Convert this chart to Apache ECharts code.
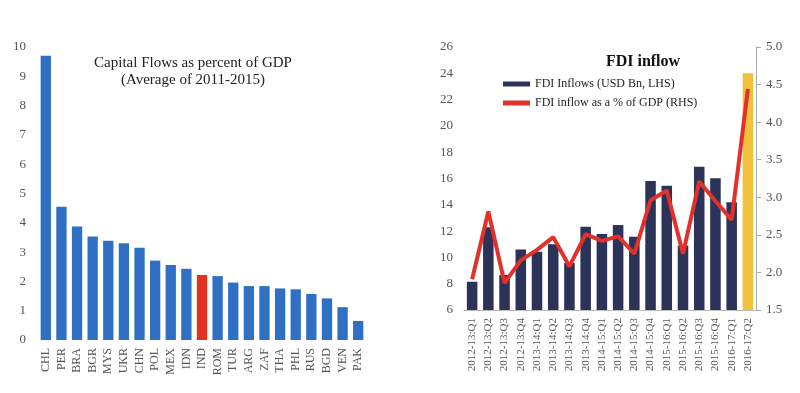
<!DOCTYPE html>
<html><head><meta charset="utf-8">
<script src="https://cdn.jsdelivr.net/npm/echarts@6/dist/echarts.min.js"></script>
<style>html,body{margin:0;padding:0;background:#fff}#c{width:800px;height:393px}</style>
</head><body><div id="c"></div>
<script>
const countries = ["CHL","PER","BRA","BGR","MYS","UKR","CHN","POL","MEX","IDN","IND","ROM","TUR","ARG","ZAF","THA","PHL","RUS","BGD","VEN","PAK"];
const capitalFlows = [9.7,4.55,3.87,3.53,3.39,3.30,3.15,2.71,2.56,2.43,2.22,2.18,1.96,1.84,1.84,1.76,1.73,1.57,1.42,1.12,0.65];
const quarters = ["2012-13:Q1","2012-13:Q2","2012-13:Q3","2012-13:Q4","2013-14:Q1","2013-14:Q2","2013-14:Q3","2013-14:Q4","2014-15:Q1","2014-15:Q2","2014-15:Q3","2014-15:Q4","2015-16:Q1","2015-16:Q2","2015-16:Q3","2015-16:Q4","2016-17:Q1","2016-17:Q2"];
const fdiInflows = [8.15,12.29,8.66,10.6,10.43,11.0,9.57,12.33,11.78,12.46,11.57,15.81,15.45,10.9,16.9,16.01,14.19,24.0];
const fdiPctGdp = [1.91,2.81,1.86,2.16,2.30,2.47,2.08,2.51,2.42,2.48,2.25,2.96,3.09,2.25,3.21,2.95,2.70,4.44];

const serif = "Liberation Serif";
const grey = "#555";
const chart = echarts.init(document.getElementById('c'));
chart.setOption({
  animation: false,
  textStyle: {fontFamily: serif},
  title: [
    {text: "Capital Flows as percent of GDP\n(Average of 2011-2015)", left: 188, top: 50, textAlign: 'center',
     textStyle: {fontFamily: serif, fontSize: 15, fontWeight: 'normal', color: '#222', lineHeight: 17}},
    {text: "FDI inflow", left: 638, top: 49, textAlign: 'center',
     textStyle: {fontFamily: serif, fontSize: 16, fontWeight: 'bold', color: '#111'}}
  ],
  legend: {
    orient: 'vertical', left: 498, top: 73, itemGap: 7, itemWidth: 27, itemHeight: 5,
    textStyle: {fontFamily: serif, fontSize: 12, color: '#222'},
    data: [{name: "FDI Inflows (USD Bn, LHS)", icon: 'rect'}, {name: "FDI inflow as a % of GDP (RHS)", icon: 'rect'}]
  },
  grid: [
    {left: 38, right: 434, top: 47, bottom: 53},
    {left: 464, right: 44, top: 47, bottom: 83}
  ],
  xAxis: [
    {gridIndex: 0, type: 'category', data: countries, axisLine: {show: false}, axisTick: {show: false},
     axisLabel: {rotate: 90, interval: 0, fontFamily: serif, fontSize: 12, color: grey, margin: 8}},
    {gridIndex: 1, type: 'category', data: quarters, axisLine: {show: true, lineStyle: {color: '#bbb', width: 1}}, axisTick: {show: false},
     axisLabel: {rotate: 90, interval: 0, fontFamily: serif, fontSize: 11, color: grey, margin: 8}}
  ],
  yAxis: [
    {gridIndex: 0, type: 'value', min: 0, max: 10, interval: 1, splitLine: {show: false}, axisLine: {show: false},
     axisLabel: {fontFamily: serif, fontSize: 13, color: grey, margin: 12}},
    {gridIndex: 1, type: 'value', min: 6, max: 26, interval: 2, splitLine: {show: false}, axisLine: {show: false},
     axisLabel: {fontFamily: serif, fontSize: 13, color: grey, margin: 11}},
    {gridIndex: 1, type: 'value', position: 'right', min: 1.5, max: 5.0, interval: 0.5, splitLine: {show: false},
     axisLine: {show: true, lineStyle: {color: '#aaa'}}, axisTick: {show: true, length: 5, lineStyle: {color: '#aaa'}},
     axisLabel: {fontFamily: serif, fontSize: 13, color: grey, margin: 10, formatter: v => v.toFixed(1)}}
  ],
  series: [
    {type: 'bar', xAxisIndex: 0, yAxisIndex: 0, barWidth: '66%',
     data: capitalFlows.map((v, i) => ({value: v, itemStyle: {color: countries[i] === 'IND' ? '#e2321f' : '#2f70c4'}}))},
    {name: "FDI Inflows (USD Bn, LHS)", type: 'bar', xAxisIndex: 1, yAxisIndex: 1, barWidth: '65%', itemStyle: {color: '#2c3358'},
     data: fdiInflows.map((v, i) => i === fdiInflows.length - 1 ? {value: v, itemStyle: {color: '#f2c13c'}} : v)},
    {name: "FDI inflow as a % of GDP (RHS)", type: 'line', xAxisIndex: 1, yAxisIndex: 2, symbol: 'none',
     lineStyle: {color: '#e2302a', width: 4}, itemStyle: {color: '#e2302a'}, data: fdiPctGdp}
  ]
});
</script></body></html>
